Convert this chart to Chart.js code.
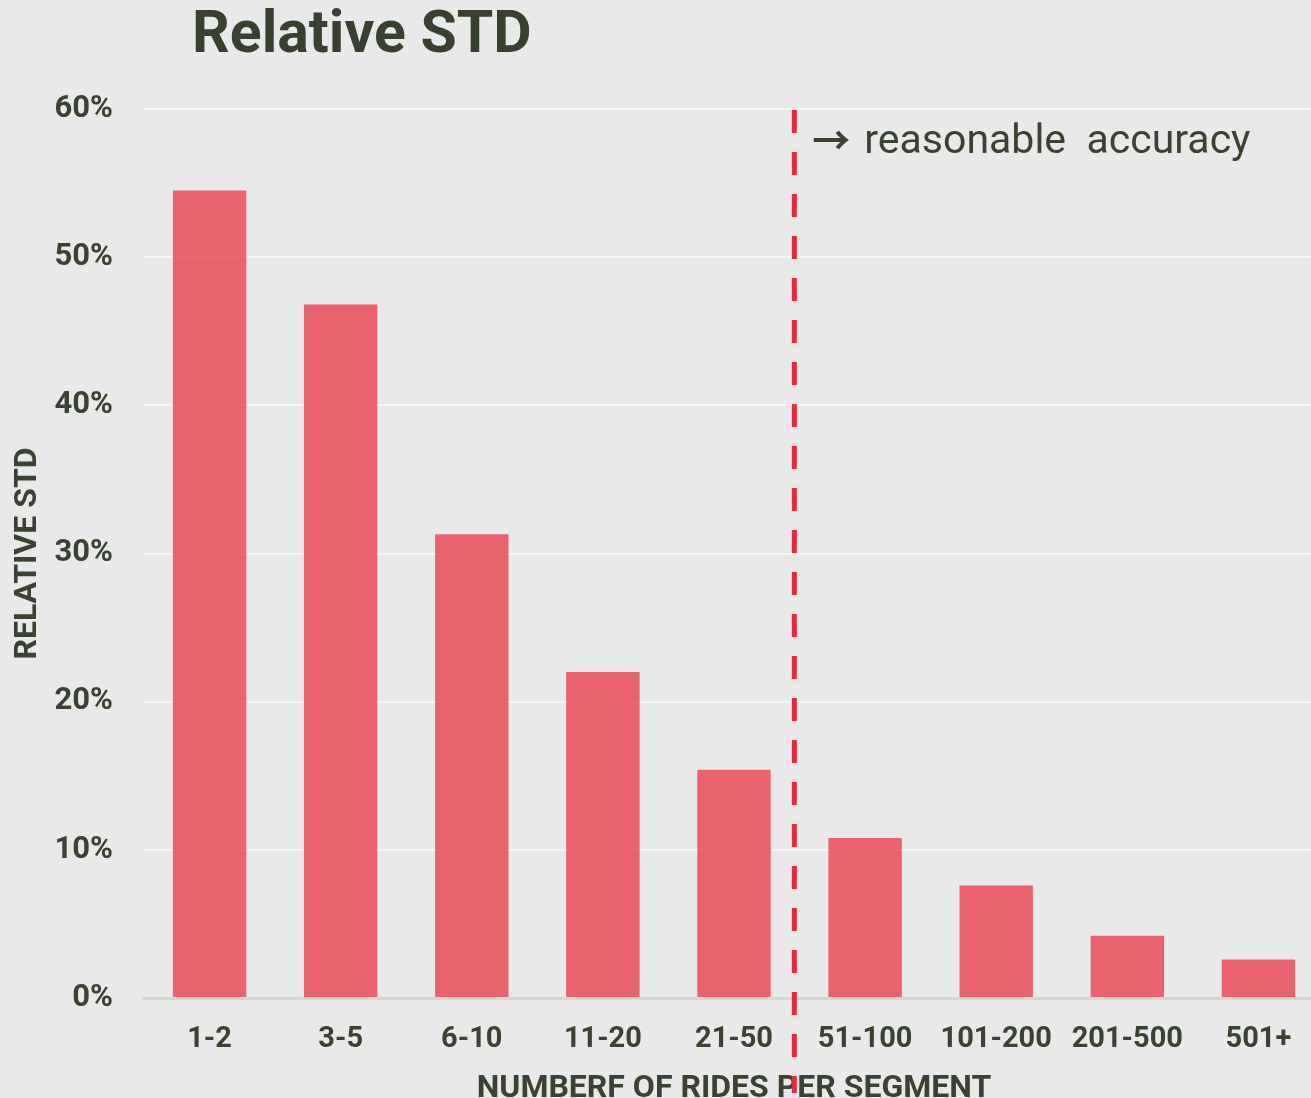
<!DOCTYPE html>
<html>
<head>
<meta charset="utf-8">
<script src="https://cdn.jsdelivr.net/npm/chart.js@4.4.1/dist/chart.umd.min.js"></script>
<style>
  html, body { margin: 0; padding: 0; background: #e9e9e9; overflow: hidden; }
  #wrap { width: 1324px; height: 1108px; }
</style>
</head>
<body>
<div id="wrap"><canvas id="myChart" width="1324" height="1108"></canvas></div>
<script>
// data
var categories = ['1-2', '3-5', '6-10', '11-20', '21-50', '51-100', '101-200', '201-500', '501+'];
var relativeStd = [54.5, 46.8, 31.3, 22.0, 15.4, 10.8, 7.6, 4.2, 2.6];
var yTicks = [0, 10, 20, 30, 40, 50, 60];
var thresholdPosition = 4.46; // between 21-50 and 51-100
var chartTitle = 'Relative STD';
var noteArrow = '\u2192';
var noteText = 'reasonable  accuracy';

var textColor = '#3a4232';

var overlay = {
    id: 'overlay',
    afterDraw: function(chart) {
        var c = chart.ctx;
        var x = chart.scales.x;
        var area = chart.chartArea;
        var lx = x.getPixelForValue(thresholdPosition);
        c.save();
        // dashed threshold
        c.strokeStyle = '#e8283c';
        c.lineWidth = 5;
        c.setLineDash([23, 19]);
        c.beginPath();
        c.moveTo(lx, area.top + 1);
        c.lineTo(lx, area.bottom + 95);
        c.stroke();
        c.setLineDash([]);
        // note
        c.fillStyle = textColor;
        c.textBaseline = 'alphabetic';
        c.textAlign = 'left';
        c.font = 'bold 38px "Noto Sans CJK JP"';
        c.fillText(noteArrow, lx + 18, area.top + 45);
        c.font = '41px Roboto';
        c.fillText(noteText, lx + 70, area.top + 44);
        // title
        c.font = 'bold 59px Roboto';
        c.fillStyle = '#38412f';
        c.fillText(chartTitle, 192, 52);
        c.restore();
    }
};

var ctx = document.getElementById('myChart').getContext('2d');
var chart = new Chart(ctx, {
    type: 'bar',
    data: {
        labels: categories,
        datasets: [{
            label: 'Relative STD',
            data: relativeStd,
            backgroundColor: 'rgba(232, 42, 57, 0.7)',
            borderWidth: 0,
            barPercentage: 0.56,
            categoryPercentage: 1
        }]
    },
    options: {
        responsive: false,
        animation: false,
        layout: { padding: { top: 109, left: 0, right: 0, bottom: 0 } },
        plugins: {
            legend: { display: false },
            tooltip: { enabled: false }
        },
        scales: {
            x: {
                grid: { display: false, drawTicks: false },
                border: { color: '#d3dac9', width: 3 },
                ticks: {
                    color: textColor,
                    font: { family: 'Roboto', size: 29, weight: 'bold' },
                    padding: 24,
                    maxRotation: 0,
                    autoSkip: false
                },
                title: {
                    display: true,
                    text: 'NUMBERF OF RIDES PER SEGMENT',
                    color: textColor,
                    font: { family: 'Roboto', size: 32, weight: 'bold' },
                    padding: { top: 0, bottom: 0 }
                },
                afterFit: function(scale) { scale.height = 110; }
            },
            y: {
                min: 0,
                max: 60,
                afterBuildTicks: function(scale) {
                    scale.ticks = yTicks.map(function(v) { return { value: v }; });
                },
                grid: { color: '#f6f6f6', lineWidth: 2, drawTicks: false },
                border: { display: false },
                ticks: {
                    color: textColor,
                    font: { family: 'Roboto', size: 31, weight: 'bold' },
                    padding: 31,
                    callback: function(v) { return v + '%'; }
                },
                title: {
                    display: true,
                    text: 'RELATIVE STD',
                    color: textColor,
                    font: { family: 'Roboto', size: 32, weight: 'bold' },
                    padding: { top: 9, bottom: 0 }
                },
                afterFit: function(scale) { scale.width = 144; }
            }
        }
    },
    plugins: [overlay]
});
</script>
</body>
</html>
